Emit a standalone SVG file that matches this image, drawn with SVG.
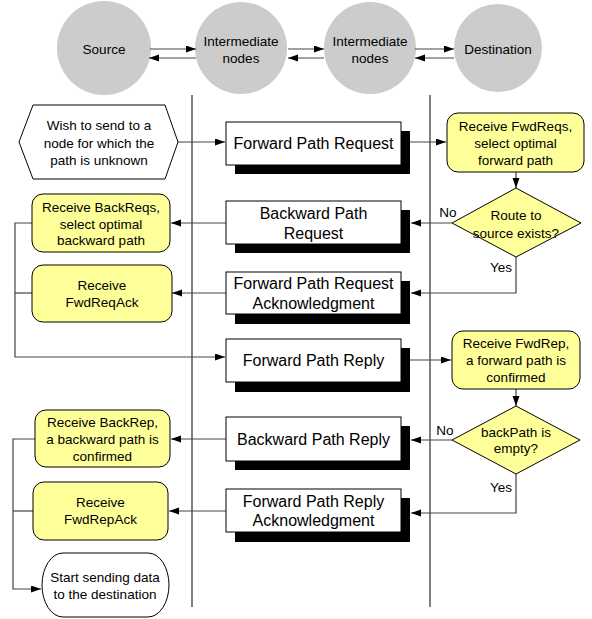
<svg xmlns="http://www.w3.org/2000/svg" width="592" height="619" viewBox="0 0 592 619">
<defs>
<marker id="ah" markerUnits="userSpaceOnUse" markerWidth="11" markerHeight="8" refX="10" refY="3.5" orient="auto">
<path d="M0,0 L10,3.5 L0,7 z" fill="#000"/>
</marker>
<style>
text{font-family:"Liberation Sans",Arial,sans-serif;fill:#000;text-anchor:middle}
.s{font-size:13.5px}
.b{font-size:16px}
.circ{fill:#cccccc;stroke:none}
.box{fill:#fff;stroke:#000;stroke-width:1}
.shd{fill:#000}
.yel{fill:#ffff99;stroke:#000;stroke-width:1}
.wht{fill:#fff;stroke:#000;stroke-width:1}
.lane{stroke:#000;stroke-width:1;fill:none}
.c{stroke:#444;stroke-width:1.2;fill:none}
.ca{stroke:#444;stroke-width:1.2;fill:none;marker-end:url(#ah)}
</style>
</defs>
<rect width="592" height="619" fill="#fff"/>
<g id="lanes">
<line class="lane" x1="192" y1="95" x2="192" y2="607"/>
<line class="lane" x1="430" y1="95" x2="430" y2="607"/>
</g>
<g id="n-source"><circle class="circ" cx="104" cy="48" r="47"/><text class="s" x="104" y="54">Source</text></g>
<g id="n-inter1"><circle class="circ" cx="241" cy="48" r="46"/><text class="s" x="241" y="46">Intermediate</text><text class="s" x="241" y="63">nodes</text></g>
<g id="n-inter2"><circle class="circ" cx="370" cy="48" r="46"/><text class="s" x="370" y="46">Intermediate</text><text class="s" x="370" y="63">nodes</text></g>
<g id="n-dest"><circle class="circ" cx="498" cy="48" r="44"/><text class="s" x="498" y="54">Destination</text></g>
<g id="connectors">
<line class="ca" x1="150" y1="49" x2="196" y2="49"/>
<line class="ca" x1="196" y1="58" x2="149" y2="58"/>
<line class="ca" x1="288" y1="49" x2="324" y2="49"/>
<line class="ca" x1="324" y1="58" x2="288" y2="58"/>
<line class="ca" x1="415" y1="49" x2="454" y2="49"/>
<line class="ca" x1="454" y1="58" x2="415" y2="58"/>
<line class="ca" x1="178" y1="142" x2="225" y2="142"/>
<line class="ca" x1="410" y1="142" x2="446" y2="142"/>
<line class="ca" x1="516" y1="172" x2="516" y2="188"/>
<line class="ca" x1="452" y1="223" x2="411" y2="223"/>
<line class="ca" x1="226" y1="223" x2="171" y2="223"/>
<polyline class="ca" points="32,223 15,223 15,357 225,357"/>
<line class="c" x1="32" y1="293" x2="15" y2="293"/>
<line class="ca" x1="226" y1="293" x2="172" y2="293"/>
<polyline class="ca" points="516,257 516,293 411,293"/>
<line class="ca" x1="410" y1="360" x2="451" y2="360"/>
<line class="ca" x1="516" y1="389" x2="516" y2="406"/>
<line class="ca" x1="452" y1="440" x2="411" y2="440"/>
<line class="ca" x1="226" y1="439" x2="171" y2="439"/>
<polyline class="ca" points="35,439 13,439 13,589 41,589"/>
<line class="c" x1="33" y1="511" x2="13" y2="511"/>
<line class="ca" x1="226" y1="511" x2="169" y2="511"/>
<polyline class="ca" points="516,474 516,513 411,513"/>
</g>
<g id="n-wish">
<polygon class="wht" points="19,142 33,105 165,105 178,142 165,179 33,179"/>
<text class="s" x="99" y="130">Wish to send to a</text>
<text class="s" x="99" y="147.5">node for which the</text>
<text class="s" x="99" y="165">path is unknown</text>
</g>
<g id="n-fpreq">
<rect class="shd" x="235" y="131" width="175" height="43"/>
<rect class="box" x="226" y="122" width="175" height="43"/>
<text class="b" x="313.5" y="149">Forward Path Request</text>
</g>
<g id="n-bpreq">
<rect class="shd" x="235" y="210" width="175" height="43"/>
<rect class="box" x="226" y="201" width="175" height="43"/>
<text class="b" x="313.5" y="219">Backward Path</text>
<text class="b" x="313.5" y="239">Request</text>
</g>
<g id="n-fpreqack">
<rect class="shd" x="235" y="281" width="175" height="43"/>
<rect class="box" x="226" y="272" width="175" height="42"/>
<text class="b" x="313.5" y="289">Forward Path Request</text>
<text class="b" x="313.5" y="309">Acknowledgment</text>
</g>
<g id="n-fprep">
<rect class="shd" x="235" y="348" width="175" height="44"/>
<rect class="box" x="226" y="339" width="175" height="43"/>
<text class="b" x="313.5" y="366">Forward Path Reply</text>
</g>
<g id="n-bprep">
<rect class="shd" x="235" y="426" width="175" height="44"/>
<rect class="box" x="226" y="417" width="175" height="44"/>
<text class="b" x="313.5" y="445">Backward Path Reply</text>
</g>
<g id="n-fprepack">
<rect class="shd" x="235" y="498" width="175" height="44"/>
<rect class="box" x="226" y="489" width="175" height="43"/>
<text class="b" x="313.5" y="507">Forward Path Reply</text>
<text class="b" x="313.5" y="526">Acknowledgment</text>
</g>
<g id="n-recvfwdreqs">
<rect class="yel" x="447" y="113" width="137" height="59" rx="11"/>
<text class="s" x="515.5" y="131">Receive FwdReqs,</text>
<text class="s" x="515.5" y="148">select optimal</text>
<text class="s" x="515.5" y="165">forward path</text>
</g>
<g id="n-route">
<polygon class="yel" points="516,188 581,223 516,257 452,223"/>
<text class="s" x="516" y="220">Route to</text>
<text class="s" x="516" y="238">source exists?</text>
</g>
<g id="n-recvbackreqs">
<rect class="yel" x="32" y="194" width="138" height="58" rx="11"/>
<text class="s" x="101" y="212">Receive BackReqs,</text>
<text class="s" x="101" y="228.5">select optimal</text>
<text class="s" x="101" y="245">backward path</text>
</g>
<g id="n-recvfwdreqack">
<rect class="yel" x="32" y="265" width="140" height="57" rx="11"/>
<text class="s" x="102" y="290">Receive</text>
<text class="s" x="102" y="307">FwdReqAck</text>
</g>
<g id="n-recvfwdrep">
<rect class="yel" x="452" y="331" width="128" height="58" rx="11"/>
<text class="s" x="516" y="348">Receive FwdRep,</text>
<text class="s" x="516" y="365">a forward path is</text>
<text class="s" x="516" y="382">confirmed</text>
</g>
<g id="n-backpath">
<polygon class="yel" points="516,406 580,440 516,474 452,440"/>
<text class="s" x="516" y="437">backPath is</text>
<text class="s" x="516" y="453">empty?</text>
</g>
<g id="n-recvbackrep">
<rect class="yel" x="35" y="410" width="135" height="57" rx="11"/>
<text class="s" x="102.5" y="427">Receive BackRep,</text>
<text class="s" x="102.5" y="444">a backward path is</text>
<text class="s" x="102.5" y="461">confirmed</text>
</g>
<g id="n-recvfwdrepack">
<rect class="yel" x="33" y="482" width="135" height="58" rx="11"/>
<text class="s" x="100.5" y="507">Receive</text>
<text class="s" x="100.5" y="524">FwdRepAck</text>
</g>
<g id="n-start">
<path class="wht" d="M63,553 H148 A21,32 0 0 1 148,617 H63 A21,32 0 0 1 63,553 z"/>
<text class="s" x="105" y="582">Start sending data</text>
<text class="s" x="105" y="599">to the destination</text>
</g>
<g id="labels">
<text class="s" x="448" y="217">No</text>
<text class="s" x="501" y="272">Yes</text>
<text class="s" x="445" y="435">No</text>
<text class="s" x="501" y="492">Yes</text>
</g>
</svg>
